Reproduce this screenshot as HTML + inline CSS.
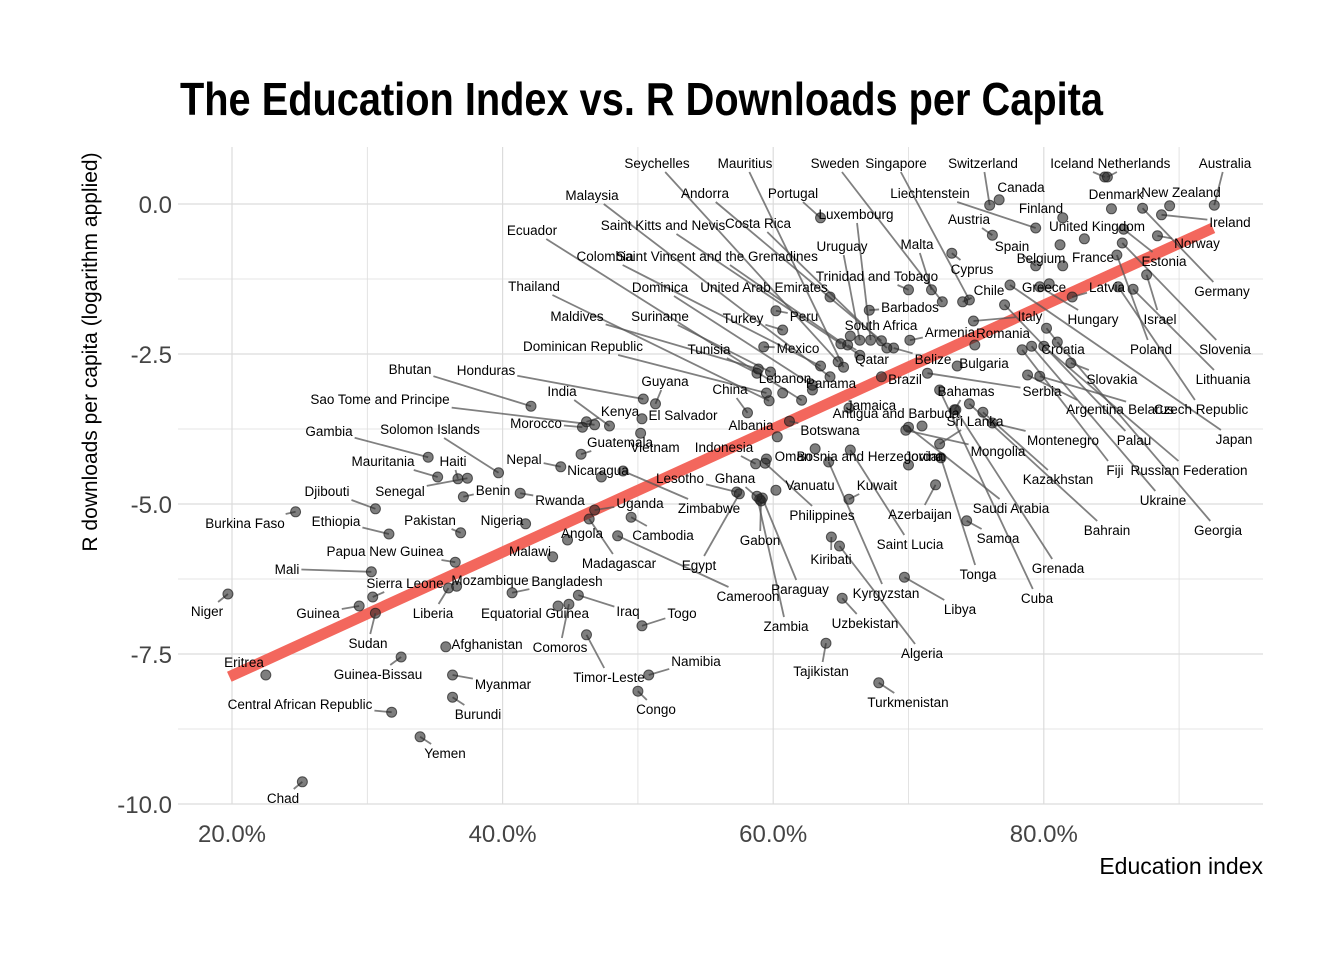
<!DOCTYPE html>
<html><head><meta charset="utf-8"><style>
html,body{margin:0;padding:0;background:#fff}
svg{display:block}
</style></head><body>
<svg id="chart" width="1344" height="960" viewBox="0 0 1344 960" xmlns="http://www.w3.org/2000/svg">
<rect width="1344" height="960" fill="#fff"/>
<text x="180" y="115" font-family="'Liberation Sans Narrow','Liberation Sans',sans-serif" font-weight="bold" font-size="46" textLength="923" lengthAdjust="spacingAndGlyphs" fill="#000">The Education Index vs. R Downloads per Capita</text>
<g id="grid"></g>
<g id="trend"></g>
<g id="leaders"></g>
<g id="points"></g>
<g id="labels"></g>
<g id="axes"></g>
<text x="0" y="0" transform="translate(97,352) rotate(-90)" text-anchor="middle" font-family="'Liberation Sans Narrow','Liberation Sans',sans-serif" font-size="21" fill="#000">R downloads per capita (logarithm applied)</text>
<text x="1263" y="874" text-anchor="end" font-family="'Liberation Sans Narrow','Liberation Sans',sans-serif" font-size="23" fill="#000">Education index</text>
</svg>
<script>
const countries = ["Niger","Chad","Burkina Faso","Eritrea","Central African Republic","Mali","Djibouti","Ethiopia","Guinea","Sierra Leone","Sudan","Guinea-Bissau","Yemen","Gambia","Mauritania","Haiti","Senegal","Papua New Guinea","Pakistan","Benin","Liberia","Mozambique","Afghanistan","Myanmar","Burundi","Solomon Islands","Nepal","Rwanda","Nigeria","Malawi","Bangladesh","Equatorial Guinea","Comoros","Iraq","Timor-Leste","Togo","Namibia","Congo","Angola","Uganda","Madagascar","Cambodia","Cameroon","Zimbabwe","Nicaragua","Guatemala","Morocco","Kenya","India","Sao Tome and Principe","Bhutan","Honduras","Guyana","El Salvador","Vietnam","Indonesia","Lesotho","Ghana","Egypt","Gabon","Oman","Vanuatu","Philippines","Paraguay","Zambia","China","Albania","Tunisia","Mexico","Lebanon","Panama","Turkey","Peru","Bosnia and Herzegovina","Botswana","Kuwait","Kiribati","Tajikistan","Uzbekistan","Kyrgyzstan","Turkmenistan","Algeria","Libya","Saint Lucia","Azerbaijan","Samoa","Tonga","Saudi Arabia","Jordan","Mongolia","Sri Lanka","Antigua and Barbuda","Jamaica","Bahamas","Brazil","Belize","Qatar","Montenegro","Kazakhstan","Bahrain","Grenada","Cuba","Serbia","Bulgaria","Armenia","Romania","South Africa","Barbados","Trinidad and Tobago","Malta","Uruguay","Luxembourg","Portugal","Andorra","Costa Rica","Saint Kitts and Nevis","Colombia","Saint Vincent and the Grenadines","Dominica","United Arab Emirates","Ecuador","Thailand","Malaysia","Maldives","Suriname","Dominican Republic","Seychelles","Mauritius","Sweden","Singapore","Switzerland","Liechtenstein","Canada","Iceland","Netherlands","Australia","New Zealand","Denmark","Ireland","Finland","United Kingdom","Austria","Spain","Belgium","France","Norway","Estonia","Germany","Latvia","Israel","Hungary","Poland","Slovenia","Lithuania","Slovakia","Czech Republic","Belarus","Argentina","Palau","Japan","Fiji","Russian Federation","Ukraine","Georgia","Croatia","Italy","Chile","Greece","Cyprus"];
const educationIndex = [19.7,25.2,24.7,22.5,31.8,30.3,30.6,31.6,29.4,30.4,30.6,32.5,33.9,34.5,35.2,36.7,37.4,36.5,36.9,37.1,36.0,36.6,35.8,36.3,36.3,39.7,44.3,41.3,41.7,43.7,40.7,44.1,44.9,45.6,46.2,50.3,50.8,50.0,44.8,46.8,46.4,49.5,48.5,48.9,47.3,45.8,45.9,46.2,47.9,46.8,42.1,50.4,51.3,50.3,50.2,58.7,57.3,59.0,57.5,59.1,59.5,60.2,59.4,59.2,58.8,58.1,60.3,58.8,59.3,60.7,62.9,60.7,60.2,63.1,61.2,65.6,64.3,63.9,65.1,64.1,67.8,64.9,69.7,65.7,72.0,74.3,72.4,70.0,70.0,69.8,72.3,71.0,65.6,73.4,68.0,68.9,65.5,76.2,75.5,74.5,73.5,72.3,71.4,73.6,70.1,74.9,65.7,67.1,70.0,71.7,66.4,67.2,63.5,68.0,68.4,65.0,63.5,66.4,62.9,64.2,62.1,59.7,64.2,58.9,59.8,59.5,64.8,65.2,72.5,74.5,76.0,79.4,76.7,84.5,84.7,92.6,89.3,85.0,88.7,81.4,83.0,76.2,79.4,81.2,81.4,88.4,85.9,87.3,82.1,87.6,79.7,85.4,85.8,86.6,82.0,85.5,79.7,78.8,77.1,77.5,78.4,80.0,79.1,81.0,80.2,74.8,74.0,80.4,73.2];
const logDownloads = [-6.50,-9.63,-5.13,-7.85,-8.47,-6.13,-5.08,-5.50,-6.70,-6.55,-6.82,-7.55,-8.88,-4.22,-4.55,-4.58,-4.57,-5.97,-5.48,-4.88,-6.40,-6.37,-7.38,-7.85,-8.22,-4.48,-4.38,-4.82,-5.33,-5.88,-6.48,-6.70,-6.67,-6.52,-7.18,-7.03,-7.85,-8.12,-5.60,-5.10,-5.25,-5.22,-5.53,-4.45,-4.55,-4.17,-3.72,-3.63,-3.70,-3.68,-3.37,-3.25,-3.33,-3.58,-3.82,-4.33,-4.80,-4.92,-4.83,-4.95,-4.25,-4.77,-4.32,-4.90,-4.87,-3.48,-3.88,-2.82,-2.38,-3.15,-3.10,-2.10,-1.78,-4.08,-3.62,-4.92,-5.55,-7.32,-6.57,-4.30,-7.98,-5.70,-6.22,-4.10,-4.68,-5.28,-4.23,-3.72,-4.35,-3.77,-4.00,-3.70,-3.40,-3.43,-2.88,-2.40,-2.35,-3.65,-3.47,-3.33,-3.43,-3.10,-2.82,-2.70,-2.27,-2.35,-2.20,-1.77,-1.43,-1.43,-2.27,-2.27,-0.23,-2.28,-2.40,-2.33,-2.70,-2.52,-3.02,-1.55,-3.27,-3.28,-2.88,-2.75,-2.80,-3.15,-2.63,-2.72,-1.63,-1.60,-0.02,-0.40,0.07,0.45,0.45,-0.02,-0.03,-0.08,-0.18,-0.23,-0.58,-0.52,-1.03,-0.68,-1.03,-0.53,-0.42,-0.07,-1.55,-1.18,-1.38,-0.85,-0.65,-1.42,-2.65,-1.38,-2.87,-2.85,-1.68,-1.35,-2.43,-2.37,-2.37,-2.30,-2.07,-1.95,-1.63,-1.33,-0.82];
// label placement (layout, pixels)
const labelPos = [[207,611],[283,798],[245,523],[244,662],[300,704],[287,569],[327,491],[336,521],[318,613],[405,583],[368,643],[378,674],[445,753],[329,431],[383,461],[453,461],[400,491],[385,551],[430,520],[493,490],[433,613],[490,580],[487,644],[503,684],[478,714],[430,429],[524,459],[560,500],[502,520],[530,551],[567,581],[535,613],[560,647],[628,611],[609,677],[682,613],[696,661],[656,709],[582,533],[640,503],[619,563],[663,535],[748,596],[709,508],[598,470],[620,442],[536,423],[620,411],[562,391],[380,399],[410,369],[486,370],[665,381],[683,415],[655,447],[724,447],[680,478],[735,478],[699,565],[760,540],[793,456],[810,485],[822,515],[800,589],[786,626],[730,389],[751,425],[709,349],[798,348],[785,378],[831,383],[743,318],[804,316],[870,456],[830,430],[877,485],[831,559],[821,671],[865,623],[886,593],[908,702],[922,653],[960,609],[910,544],[920,514],[998,538],[978,574],[1011,508],[925,456],[998,451],[975,421],[896,413],[871,405],[966,391],[905,379],[933,359],[872,359],[1063,440],[1058,479],[1107,530],[1058,568],[1037,598],[1042,391],[984,363],[950,332],[1003,333],[881,325],[910,307],[877,276],[917,244],[842,246],[856,214],[793,193],[705,193],[758,223],[663,225],[605,256],[717,256],[660,287],[764,287],[532,230],[534,286],[592,195],[577,316],[660,316],[583,346],[657,163],[745,163],[835,163],[896,163],[983,163],[930,193],[1021,187],[1072,163],[1134,163],[1225,163],[1181,192],[1116,194],[1230,222],[1041,208],[1097,226],[969,219],[1012,246],[1041,258],[1093,257],[1197,243],[1164,261],[1222,291],[1107,287],[1160,319],[1093,319],[1151,349],[1225,349],[1223,379],[1112,379],[1201,409],[1151,409],[1095,409],[1134,440],[1234,439],[1115,470],[1189,470],[1163,500],[1218,530],[1063,349],[1030,316],[989,290],[1044,287],[972,269]];
const xTicks = [20,40,60,80];
const xTickLabels = ["20.0%","40.0%","60.0%","80.0%"];
const yTicks = [0,-2.5,-5,-7.5,-10];
const yTickLabels = ["0.0","-2.5","-5.0","-7.5","-10.0"];
const trendX = [19.8,92.5];
const trendY = [-7.88,-0.40];

const NS="http://www.w3.org/2000/svg";
const PL=178,PR=1263,PT=147,PB=804;
function sx(v){return 232+(v-20)*13.53;}
function sy(v){return 204-v*60;}
function mk(tag,attrs,parent){const e=document.createElementNS(NS,tag);for(const k in attrs)e.setAttribute(k,attrs[k]);parent.appendChild(e);return e;}

const grid=document.getElementById('grid');
for(let v=20;v<=90;v+=10){
  const l=mk('line',{x1:sx(v),x2:sx(v),y1:PT,y2:PB,stroke:'#dcdcdc','stroke-width':v%20===0?1.2:0.8},grid);
  
  
}
for(let k=0;k<=8;k++){
  const v=-1.25*k, y=sy(v);
  const l=mk('line',{x1:PL,x2:PR,y1:y,y2:y,stroke:'#dcdcdc','stroke-width':k%2===0?1.2:0.8},grid);
  
  
}
const axes=document.getElementById('axes');
xTicks.forEach((t,i)=>{
  const tx=mk('text',{x:sx(t),y:842,'text-anchor':'middle','font-family':"'Liberation Sans Narrow','Liberation Sans',sans-serif",'font-size':24,fill:'#444'},axes);
  tx.textContent=xTickLabels[i];
  
  
});
yTicks.forEach((t,i)=>{
  const tx=mk('text',{x:172,y:sy(t)+9,'text-anchor':'end','font-family':"'Liberation Sans Narrow','Liberation Sans',sans-serif",'font-size':24,fill:'#444'},axes);
  tx.textContent=yTickLabels[i];
  
  
});
const trend=document.getElementById('trend');
const tl=mk('line',{x1:sx(trendX[0]),y1:sy(trendY[0]),x2:sx(trendX[1]),y2:sy(trendY[1]),stroke:'#f3675d','stroke-width':11},trend);



const pts=document.getElementById('points'),labs=document.getElementById('labels'),lead=document.getElementById('leaders');
countries.forEach((c,i)=>{
  const px=sx(educationIndex[i]),py=sy(logDownloads[i]);
  const p=mk('circle',{cx:px,cy:py,r:5,fill:'rgba(40,40,40,0.6)',stroke:'rgba(30,30,30,0.7)','stroke-width':1},pts);
  
  
  const [lx,ly]=labelPos[i];
  const t=mk('text',{x:lx,y:ly+5,'text-anchor':'middle','font-family':"'Liberation Sans',sans-serif",'font-size':13.5,fill:'#000'},labs);
  t.textContent=c;
  
  
  const w=t.getComputedTextLength()/2+2,h=9;
  let dx=px-lx,dy=py-ly;
  if(Math.abs(dx)<=w&&Math.abs(dy)<=h) return;
  const s=Math.min(dx!==0?w/Math.abs(dx):1e9,dy!==0?h/Math.abs(dy):1e9);
  const ex=lx+dx*s,ey=ly+dy*s;
  if(Math.hypot(px-ex,py-ey)<9) return;
  const ln=mk('line',{x1:ex,y1:ey,x2:px,y2:py,stroke:'#555','stroke-opacity':0.75,'stroke-width':1.8},lead);
  
  
});
</script>
</body></html>
